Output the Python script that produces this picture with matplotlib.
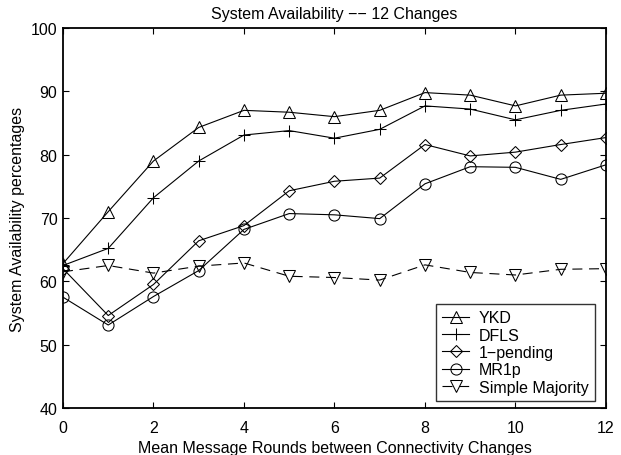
import matplotlib
matplotlib.use("Agg")
import matplotlib.pyplot as plt

plt.rcParams['font.family'] = ['Liberation Sans', 'DejaVu Sans']

rounds = list(range(13))
ykd = [62.8, 71.0, 79.0, 84.3, 87.0, 86.7, 86.0, 87.0, 89.8, 89.4, 87.7, 89.4, 89.7]
dfls = [62.5, 65.2, 73.2, 79.0, 83.1, 83.8, 82.6, 84.0, 87.7, 87.2, 85.5, 87.0, 88.0]
one_pending = [62.0, 54.6, 59.5, 66.4, 68.8, 74.3, 75.8, 76.3, 81.6, 79.8, 80.4, 81.6, 82.7]
mr1p = [57.5, 53.1, 57.6, 61.7, 68.2, 70.7, 70.5, 69.9, 75.4, 78.1, 78.0, 76.1, 78.4]
simple_majority = [61.5, 62.5, 61.3, 62.4, 62.9, 60.8, 60.6, 60.2, 62.6, 61.4, 61.0, 61.9, 62.0]

series = [
    ("YKD", ykd, "^", "-"),
    ("DFLS", dfls, "+", "-"),
    ("1\u2212pending", one_pending, "D", "-"),
    ("MR1p", mr1p, "o", "-"),
    ("Simple Majority", simple_majority, "v", (0, (9, 6))),
]

fs = 11.5
fig = plt.figure(figsize=(6.21, 4.56), dpi=100)
ax = fig.add_axes([0.1014, 0.1031, 0.8744, 0.8333])

for label, vals, mk, ls in series:
    ms = 6 if mk == "D" else (8.5 if mk == "+" else 8)
    ax.plot(rounds, vals, color="black", linestyle=ls, linewidth=0.8,
            marker=mk, markersize=ms, markerfacecolor="none",
            markeredgecolor="black", markeredgewidth=0.75, label=label)

ax.set_xlim(0, 12)
ax.set_ylim(40, 100)
ax.set_xticks(range(0, 13, 2))
ax.set_yticks(range(40, 101, 10))
ax.tick_params(direction="in", top=True, right=True, length=4, width=0.8,
               labelsize=fs)
ax.tick_params(axis="x", pad=9)
ax.tick_params(axis="y", pad=4)
for sp in ax.spines.values():
    sp.set_linewidth(1.3)

ax.set_title("System Availability \u2212\u2212 12 Changes", fontsize=fs, pad=7)
ax.set_xlabel("Mean Message Rounds between Connectivity Changes", fontsize=fs, labelpad=3)
ax.set_ylabel("System Availability percentages", fontsize=fs, labelpad=4)

leg = ax.legend(loc="lower right", bbox_to_anchor=(0.9797, 0.018), fontsize=fs,
                frameon=True, fancybox=False, edgecolor="black", borderpad=0.4,
                labelspacing=0.15, handlelength=1.7, handletextpad=0.6,
                borderaxespad=0)
leg.get_frame().set_linewidth(1.0)

fig.savefig("out.png", dpi=100)
